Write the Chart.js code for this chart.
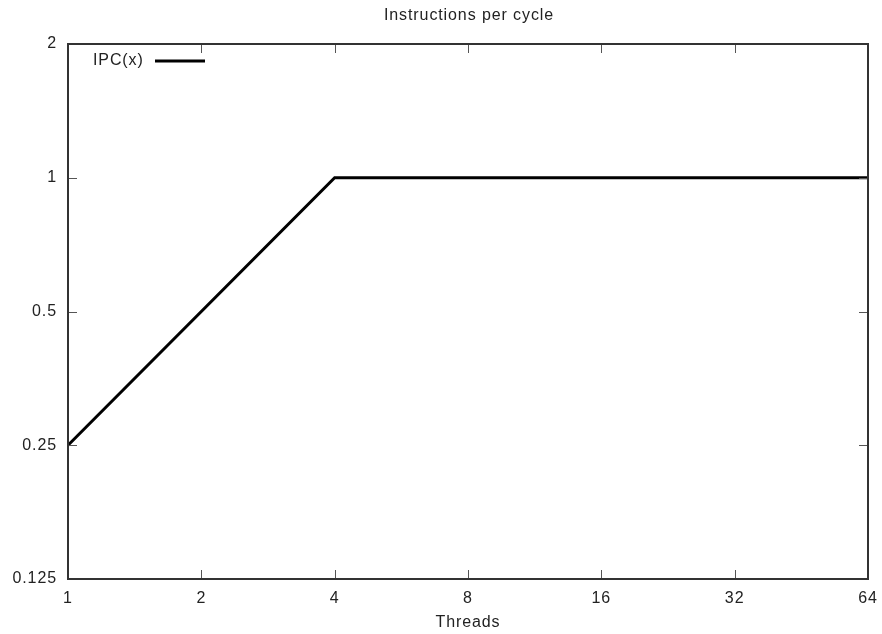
<!DOCTYPE html>
<html>
<head>
<meta charset="utf-8">
<script src="https://cdn.jsdelivr.net/npm/chart.js@4/dist/chart.umd.min.js"></script>
<style>
  html, body { margin: 0; padding: 0; background: #fff; }
  #wrap { width: 882px; height: 634px; }
</style>
</head>
<body>
<div id="wrap"><canvas id="ipcChart" width="882" height="634"></canvas></div>
<script>
// data
var threads = [1, 4, 64];
var ipc = [0.25, 1, 1];
var xTicks = [1, 2, 4, 8, 16, 32, 64];
var yTicks = [0.125, 0.25, 0.5, 1, 2];
var seriesName = 'IPC(x)';

var FONT = '"Liberation Sans", Arial, sans-serif';
var TXT = '#222';
var SPACING = '0.9px';

// both axes are log2, so plot exponents on linear scales
var pts = threads.map(function (t, i) {
    return { x: Math.log2(t), y: Math.log2(ipc[i]) };
});

// frame, inward ticks, title, axis label and legend (gnuplot look)
var gnuFrame = {
    id: 'gnuFrame',
    beforeDraw: function (chart) {
        chart.ctx.letterSpacing = SPACING;
    },
    afterDraw: function (chart) {
        var c = chart.ctx, a = chart.chartArea;
        var xs = chart.scales.x, ys = chart.scales.y;
        c.save();
        c.letterSpacing = SPACING;
        // tick marks, mirrored
        c.strokeStyle = '#555';
        c.lineWidth = 1;
        c.beginPath();
        xTicks.forEach(function (t) {
            var px = Math.round(xs.getPixelForValue(Math.log2(t))) + 0.5;
            c.moveTo(px, a.bottom); c.lineTo(px, a.bottom - 9);
            c.moveTo(px, a.top); c.lineTo(px, a.top + 9);
        });
        yTicks.forEach(function (t) {
            var py = Math.round(ys.getPixelForValue(Math.log2(t))) + 0.5;
            c.moveTo(a.left, py); c.lineTo(a.left + 9, py);
            c.moveTo(a.right, py); c.lineTo(a.right - 9, py);
        });
        c.stroke();
        // border
        c.strokeStyle = '#333';
        c.lineWidth = 2;
        c.strokeRect(a.left, a.top, a.right - a.left, a.bottom - a.top);
        // title and x label
        c.fillStyle = TXT;
        c.font = '16px ' + FONT;
        c.textAlign = 'center';
        c.textBaseline = 'middle';
        c.fillText('Instructions per cycle', (a.left + a.right) / 2 + 1, 16);
        c.fillText('Threads', (a.left + a.right) / 2, 623);
        // legend
        c.textAlign = 'left';
        c.fillText(seriesName, 93, 61);
        c.strokeStyle = '#000';
        c.lineWidth = 3;
        c.beginPath();
        c.moveTo(155, 61); c.lineTo(205, 61);
        c.stroke();
        c.restore();
    }
};

new Chart(document.getElementById('ipcChart'), {
    type: 'line',
    data: {
        datasets: [{
            label: seriesName,
            data: pts,
            borderColor: '#000',
            borderWidth: 3,
            pointRadius: 0,
            tension: 0,
            fill: false
        }]
    },
    options: {
        responsive: false,
        animation: false,
        clip: false,
        layout: { padding: { top: 44, right: 14, left: 0, bottom: 0 } },
        plugins: { legend: { display: false }, title: { display: false }, tooltip: { enabled: false } },
        scales: {
            x: {
                type: 'linear',
                min: 0, max: 6,
                grid: { display: false, drawTicks: false },
                border: { display: false },
                afterFit: function (s) { s.height = 55; s.paddingLeft = 0; s.paddingRight = 0; },
                ticks: {
                    stepSize: 1,
                    padding: 10,
                    color: TXT,
                    font: { family: FONT, size: 16 },
                    maxRotation: 0,
                    callback: function (v) { return String(Math.pow(2, v)); }
                }
            },
            y: {
                type: 'linear',
                min: -3, max: 1,
                grid: { display: false, drawTicks: false },
                border: { display: false },
                afterFit: function (s) { s.width = 68; s.paddingTop = 0; s.paddingBottom = 0; },
                ticks: {
                    stepSize: 1,
                    padding: 11,
                    color: TXT,
                    font: { family: FONT, size: 16 },
                    callback: function (v) { return String(Math.pow(2, v)); }
                }
            }
        }
    },
    plugins: [gnuFrame]
});
</script>
</body>
</html>
